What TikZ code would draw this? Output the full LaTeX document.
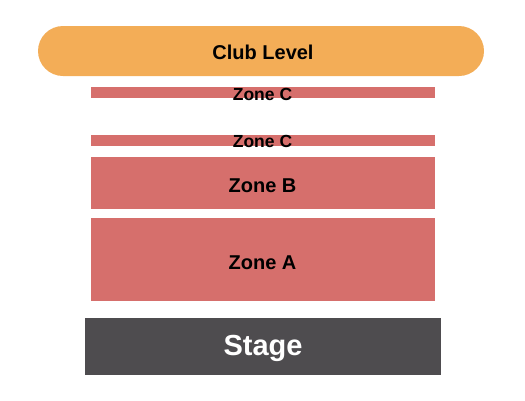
\documentclass[tikz,border=0pt]{standalone}
\usepackage{fontspec}
\setmainfont{Liberation Sans}
\usepackage{tikz}
\usetikzlibrary{positioning}
\definecolor{clubc}{RGB}{243,173,87}
\definecolor{zonec}{RGB}{214,111,108}
\definecolor{stagec}{RGB}{78,76,79}

\begin{document}
\begin{tikzpicture}[x = 1pt, y = -1pt,
  every label/.style = {font=\bfseries\fontsize{20}{20}\selectfont, yshift=-3pt},
  zone/.style = {fill=zonec, inner sep=0pt, minimum width=344pt},
  strip/.style = {zone, minimum height=11pt}]
\useasboundingbox (0, 0) rectangle (525, 400);

\node[fill=clubc, rounded corners=25pt, minimum width=446pt, minimum height=50pt, label={[yshift=2pt, xshift=2pt]center:Club Level}] (club) at (261, 51) {};

\node[strip, label={[font=\bfseries\fontsize{17.5}{17.5}\selectfont, yshift=1pt]center:Zone C}] (zoneC1) at (262.5, 92.5) {};
\node[strip, label={[font=\bfseries\fontsize{17.5}{17.5}\selectfont, yshift=1.5pt]center:Zone C}] (zoneC2) at (262.5, 140) {};
\node[zone, minimum height=52pt, label={center:Zone B}] (zoneB) at (262.5, 183) {};
\node[zone, minimum height=83pt, label={center:Zone A}] (zoneA) at (262.5, 259.5) {};

\node[fill=stagec, inner sep=0pt, minimum width=356pt, minimum height=57pt, label={[text=white, font=\bfseries\fontsize{29}{29}\selectfont, yshift=1pt]center:Stage}] (stage) at (263, 346.5) {};

\end{tikzpicture}
\end{document}
